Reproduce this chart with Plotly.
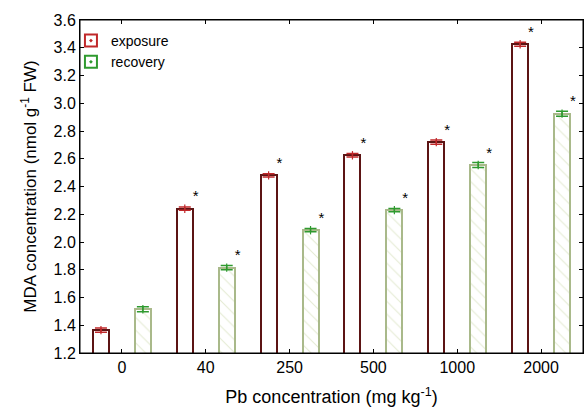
import plotly.graph_objects as go

categories = ["0", "40", "250", "500", "1000", "2000"]
exposure = [1.365, 2.24, 2.48, 2.625, 2.72, 3.425]
exposure_err = [0.015, 0.012, 0.012, 0.012, 0.015, 0.015]
recovery = [1.515, 1.815, 2.085, 2.23, 2.555, 2.925]
recovery_err = [0.018, 0.015, 0.012, 0.012, 0.018, 0.018]
exposure_sig = ["", "*", "*", "*", "*", "*"]
recovery_sig = ["", "*", "*", "*", "*", "*"]

idx = list(range(len(categories)))
off = 0.25
bw = 0.19
xe = [i - off for i in idx]
xr = [i + off for i in idx]

dark_red = "#5c1414"
red = "#c0282a"
olive = "#a9b98a"
green = "#2f9a2f"
hatch = "#c9d6a8"

fig = go.Figure()
fig.add_trace(go.Bar(x=xe, y=exposure, width=bw, marker=dict(color="white", line=dict(color=dark_red, width=2)),
                     showlegend=False, hoverinfo="skip"))
fig.add_trace(go.Bar(x=xr, y=recovery, width=bw,
                     marker=dict(color="white", line=dict(color=olive, width=2),
                                 pattern=dict(shape="\\", fgcolor=hatch, bgcolor="white", size=9, solidity=0.12)),
                     showlegend=False, hoverinfo="skip"))
fig.add_trace(go.Scatter(x=xe, y=exposure, mode="markers",
                         marker=dict(symbol="line-ns-open", size=6, color=red, line=dict(color=red, width=1.2)),
                         error_y=dict(type="data", array=exposure_err, color=red, thickness=1.5, width=6),
                         showlegend=False, hoverinfo="skip"))
fig.add_trace(go.Scatter(x=xr, y=recovery, mode="markers",
                         marker=dict(symbol="line-ns-open", size=6, color=green, line=dict(color=green, width=1.2)),
                         error_y=dict(type="data", array=recovery_err, color=green, thickness=1.5, width=6),
                         showlegend=False, hoverinfo="skip"))
# significance stars
fig.add_trace(go.Scatter(x=[x + 0.13 for x in xe], y=[v + 0.08 for v in exposure], mode="text", text=exposure_sig,
                         textfont=dict(size=15, color="black", family="Liberation Sans"), showlegend=False, hoverinfo="skip"))
fig.add_trace(go.Scatter(x=[x + 0.13 for x in xr], y=[v + 0.08 for v in recovery], mode="text", text=recovery_sig,
                         textfont=dict(size=15, color="black", family="Liberation Sans"), showlegend=False, hoverinfo="skip"))
# legend entries
fig.add_trace(go.Scatter(x=[None], y=[None], mode="markers", name="exposure",
                         marker=dict(symbol="square-open-dot", size=12, color=red, line=dict(color=dark_red, width=2))))
fig.add_trace(go.Scatter(x=[None], y=[None], mode="markers", name="recovery",
                         marker=dict(symbol="square-open-dot", size=12, color=green, line=dict(color=olive, width=2))))

fig.update_layout(
    width=588, height=412,
    margin=dict(l=80, r=5, t=20, b=59),
    paper_bgcolor="white", plot_bgcolor="white",
    font=dict(family="Liberation Sans, Arial", size=15, color="black"),
    bargap=0,
    legend=dict(x=-0.018, y=0.985, xanchor="left", yanchor="top", bgcolor="rgba(0,0,0,0)",
                font=dict(size=14), itemsizing="constant", tracegroupgap=0, itemwidth=30),
    xaxis=dict(range=[-0.5, 5.5], tickmode="array", tickvals=idx, ticktext=categories,
               showline=True, linecolor="black", linewidth=1, mirror="ticks", ticks="inside", ticklen=4,
               tickcolor="black", showgrid=False, zeroline=False, tickfont=dict(size=16),
               title=dict(text="Pb concentration (mg kg<sup>-1</sup>)", font=dict(size=18), standoff=15)),
    yaxis=dict(range=[1.2, 3.6], tickmode="linear", tick0=1.2, dtick=0.2, tickformat=".1f",
               showline=True, linecolor="black", linewidth=1, mirror="ticks", ticks="inside", ticklen=4,
               tickcolor="black", showgrid=False, zeroline=False, tickfont=dict(size=16),
               title=dict(text="MDA concentration (nmol g<sup>-1</sup> FW)", font=dict(size=17), standoff=12)),
    shapes=[dict(type="rect", xref="paper", yref="paper", x0=0, x1=1, y0=0, y1=1,
                 line=dict(color="black", width=1), fillcolor="rgba(0,0,0,0)", layer="above")],
)

fig.write_html("out.html", config={"displayModeBar": False},
               post_script="document.body.style.margin='0';document.body.style.overflow='hidden';")
